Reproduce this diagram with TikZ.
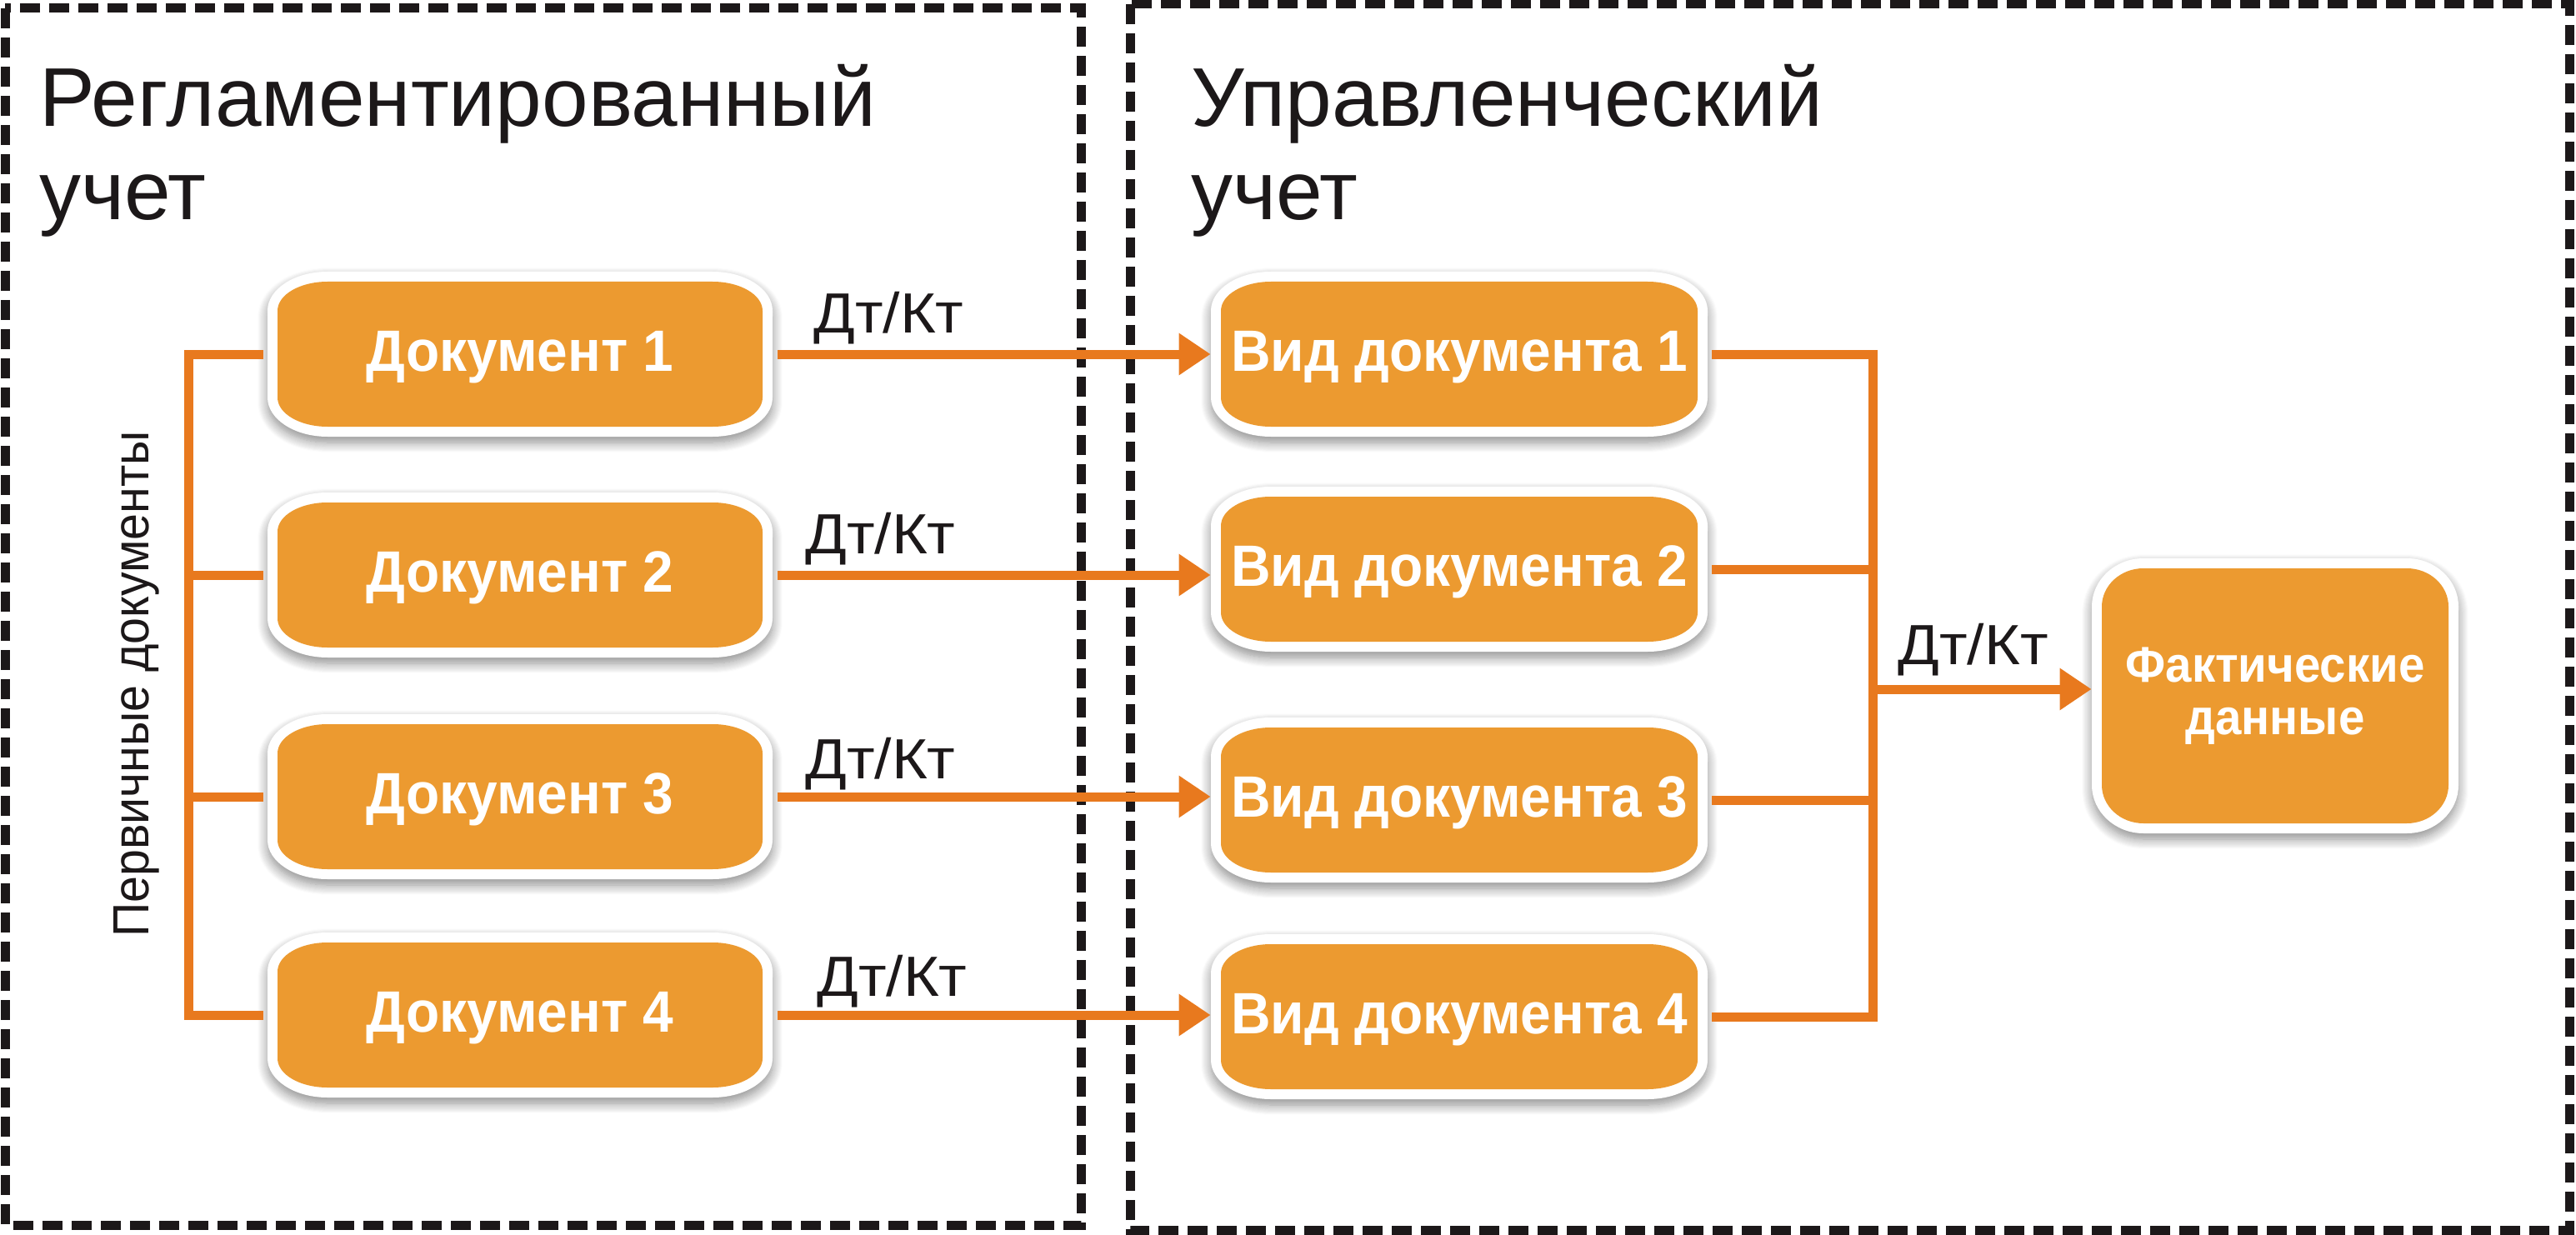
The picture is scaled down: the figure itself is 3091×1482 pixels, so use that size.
\documentclass[tikz,border=0pt]{standalone}
\usepackage{fontspec}
\setmainfont{Liberation Sans}
\newfontfamily\lblfont[FakeStretch=0.94]{Liberation Sans}
\newfontfamily\dtfont[FakeStretch=1.08]{Liberation Sans}
\usetikzlibrary{arrows.meta,shadows.blur}
\definecolor{boxorange}{RGB}{236,154,48}
\definecolor{lineorange}{RGB}{232,121,30}
\definecolor{inkblack}{RGB}{28,24,25}

% closed shape with elliptical corners: style, cx, cy, halfw, halfh, rx, ry
\newcommand\ershape[7]{%
  \pgfmathsetmacro\eL{(#2)-(#4)}%
  \pgfmathsetmacro\eR{(#2)+(#4)}%
  \pgfmathsetmacro\eT{(#3)-(#5)}%
  \pgfmathsetmacro\eB{(#3)+(#5)}%
  \pgfmathsetmacro\eLx{\eL+(#6)}%
  \pgfmathsetmacro\eRx{\eR-(#6)}%
  \pgfmathsetmacro\eTy{\eT+(#7)}%
  \pgfmathsetmacro\eBy{\eB-(#7)}%
  \pgfmathsetmacro\eLk{\eL+0.4477*(#6)}%
  \pgfmathsetmacro\eRk{\eR-0.4477*(#6)}%
  \pgfmathsetmacro\eTk{\eT+0.4477*(#7)}%
  \pgfmathsetmacro\eBk{\eB-0.4477*(#7)}%
  \path[#1] (\eLx,\eT) -- (\eRx,\eT)
    .. controls (\eRk,\eT) and (\eR,\eTk) .. (\eR,\eTy) -- (\eR,\eBy)
    .. controls (\eR,\eBk) and (\eRk,\eB) .. (\eRx,\eB) -- (\eLx,\eB)
    .. controls (\eLk,\eB) and (\eL,\eBk) .. (\eL,\eBy) -- (\eL,\eTy)
    .. controls (\eL,\eTk) and (\eLk,\eT) .. (\eLx,\eT) -- cycle;
}
% name, cx, cy, halfw, halfh, text
\newcommand\procbox[6]{%
  \ershape{outershape}{#2}{#3}{#4}{#5}{72}{47}%
  \ershape{innershape}{#2}{#3}{(#4)-12}{(#5)-12}{60}{35}%
  \node[boxlabel, minimum width=#4pt, minimum height=#5pt] (#1) at (#2,#3) {#6};%
}

\begin{document}
\begin{tikzpicture}[x=0.5pt,y=-0.5pt,
  outershape/.style={fill=white, blur shadow={shadow xshift=0pt, shadow yshift=-3.5pt, shadow blur radius=6pt, shadow opacity=45, shadow blur steps=12}},
  innershape/.style={fill=boxorange},
  boxlabel/.style={inner sep=0pt, text=white, font=\lblfont\bfseries\fontsize{35}{40}\selectfont, text height=25pt, text depth=5pt},
  factlabel/.style={inner sep=0pt, text=white, align=center, font=\lblfont\bfseries\fontsize{30}{31.5}\selectfont},
  title/.style={inner sep=0pt, anchor=base west, text=inkblack, font=\fontsize{50}{56}\selectfont},
  dtkt/.style={inner sep=0pt, anchor=base west, text=inkblack, font=\dtfont\fontsize{34}{40}\selectfont},
  side/.style={inner sep=0pt, anchor=base, rotate=90, text=inkblack, font=\lblfont\fontsize{30.5}{34}\selectfont},
  link/.style={draw=lineorange, line width=5.5pt},
  arrowlink/.style={link, -{Triangle[length=19pt,width=24pt]}},
  frame/.style={draw=inkblack, line width=5.5pt, dash pattern=on 12pt off 5.5pt}
]
\useasboundingbox (0,0) rectangle (3091,1482);

% dashed frames
\draw[frame] (6,10) rectangle (1297,1470);
\draw[frame] (1356,5) rectangle (3083,1476);

% titles
\node[title] (t1a) at (47,152) {Регламентированный};
\node[title] (t1b) at (47,264) {учет};
\node[title] (t2a) at (1429,152) {Управленческий};
\node[title] (t2b) at (1429,264) {учет};

% boxes
\procbox{d1}{624}{425}{303}{99}{Документ 1}
\procbox{d2}{624}{690}{303}{99}{Документ 2}
\procbox{d3}{624}{956}{303}{99}{Документ 3}
\procbox{d4}{624}{1218}{303}{99}{Документ 4}
\procbox{v1}{1751}{425}{298}{99}{Вид документа 1}
\procbox{v2}{1751}{683}{298}{99}{Вид документа 2}
\procbox{v3}{1751}{960}{298}{99}{Вид документа 3}
\procbox{v4}{1751}{1220}{298}{99}{Вид документа 4}
\ershape{outershape}{2730}{835}{220}{165}{62}{58}
\ershape{innershape}{2730}{835}{208}{153}{50}{46}
\node[factlabel, minimum width=220pt, minimum height=165pt] (f) at (2730,835) {Фактические\\данные};

% side label
\node[side] (prim) at (178,821) {Первичные документы};

% left bracket
\coordinate (busL) at (226,820);
\draw[link] ([xshift=-2.5pt]d1.west) -| (busL) |- ([xshift=-2.5pt]d4.west);
\draw[link] ([xshift=-2.5pt]d2.west) -- (d2.west -| busL);
\draw[link] ([xshift=-2.5pt]d3.west) -- (d3.west -| busL);

% arrows between columns
\draw[arrowlink] ([xshift=3pt]d1.east) -- (d1.east -| v1.west);
\draw[arrowlink] ([xshift=3pt]d2.east) -- (d2.east -| v2.west);
\draw[arrowlink] ([xshift=3pt]d3.east) -- (d3.east -| v3.west);
\draw[arrowlink] ([xshift=3pt]d4.east) -- (d4.east -| v4.west);

% right bracket
\coordinate (busR) at (2247,800);
\draw[link] ([xshift=2.5pt]v1.east) -| (busR) |- ([xshift=2.5pt]v4.east);
\draw[link] ([xshift=2.5pt]v2.east) -- (v2.east -| busR);
\draw[link] ([xshift=2.5pt]v3.east) -- (v3.east -| busR);
\coordinate (busF) at (2247,827);
\draw[arrowlink] (busF) -- (busF -| f.west);

% labels
\node[dtkt] (k1) at (976,400) {Дт/Кт};
\node[dtkt] (k2) at (966,664) {Дт/Кт};
\node[dtkt] (k3) at (966,934) {Дт/Кт};
\node[dtkt] (k4) at (980,1195) {Дт/Кт};
\node[dtkt] (k5) at (2277,797) {Дт/Кт};
\end{tikzpicture}
\end{document}
